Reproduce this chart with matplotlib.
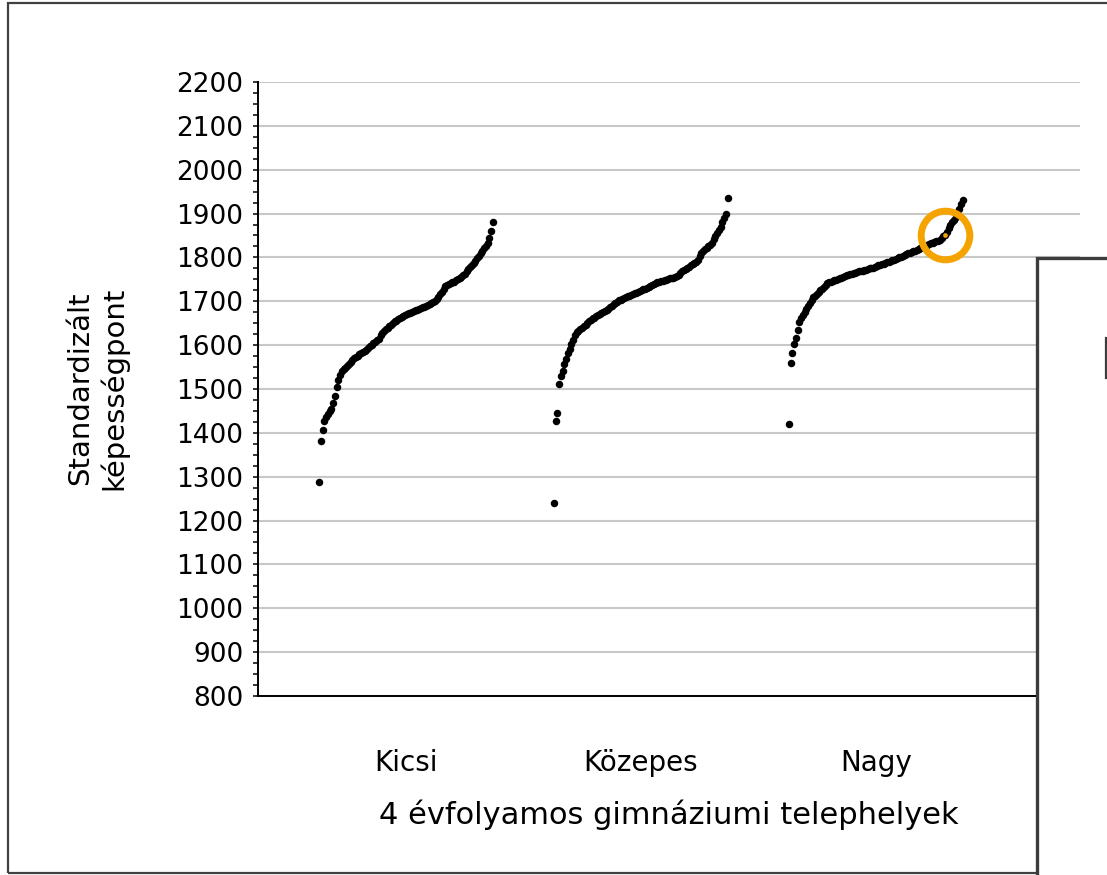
import matplotlib
matplotlib.use("Agg")
import matplotlib.pyplot as plt
from matplotlib.patches import Rectangle
from matplotlib.lines import Line2D
from matplotlib.transforms import blended_transform_factory
from matplotlib.ticker import MultipleLocator
import numpy as np

plt.rcParams['font.family'] = ['DejaVu Sans']

categories = ["Kicsi", "Közepes", "Nagy"]
x_title = "4 évfolyamos gimnáziumi telephelyek"
y_title = "Standardizált\nképességpont"

kicsi = [1287, 1382, 1407, 1428, 1437, 1442, 1449, 1454, 1469, 1484,
         1505, 1520, 1532, 1542, 1546, 1549, 1552, 1557, 1562, 1567,
         1570, 1573, 1576, 1579, 1581, 1584, 1587, 1590, 1593, 1597,
         1600, 1604, 1608, 1612, 1615, 1622, 1628, 1633, 1636, 1639,
         1643, 1647, 1650, 1654, 1656, 1659, 1661, 1664, 1666, 1668,
         1670, 1673, 1674, 1676, 1678, 1680, 1681, 1683, 1685, 1686,
         1688, 1689, 1691, 1693, 1695, 1698, 1700, 1705, 1710, 1716,
         1722, 1729, 1735, 1738, 1740, 1742, 1744, 1745, 1748, 1750,
         1753, 1755, 1759, 1763, 1768, 1773, 1778, 1782, 1787, 1792,
         1798, 1804, 1810, 1815, 1821, 1826, 1834, 1844, 1861, 1881]

kozepes = [1241, 1428, 1446, 1511, 1530, 1542, 1556, 1569, 1581, 1592,
           1602, 1612, 1622, 1629, 1633, 1637, 1640, 1644, 1647, 1651,
           1654, 1657, 1661, 1663, 1666, 1668, 1670, 1673, 1675, 1678,
           1680, 1683, 1686, 1689, 1693, 1696, 1699, 1702, 1704, 1706,
           1707, 1709, 1711, 1713, 1714, 1716, 1718, 1719, 1721, 1723,
           1725, 1727, 1729, 1731, 1733, 1735, 1737, 1739, 1741, 1743,
           1745, 1746, 1747, 1748, 1749, 1751, 1752, 1753, 1754, 1755,
           1757, 1761, 1764, 1768, 1771, 1774, 1777, 1779, 1782, 1784,
           1787, 1789, 1795, 1803, 1811, 1815, 1819, 1822, 1825, 1829,
           1833, 1841, 1849, 1856, 1863, 1870, 1880, 1890, 1900, 1935]

nagy = [1420, 1560, 1581, 1602, 1616, 1634, 1653, 1661, 1669, 1676,
        1683, 1689, 1696, 1703, 1709, 1713, 1717, 1721, 1725, 1729,
        1733, 1737, 1741, 1743, 1744, 1746, 1748, 1749, 1751, 1753,
        1754, 1756, 1758, 1759, 1761, 1762, 1763, 1764, 1765, 1767,
        1768, 1769, 1770, 1771, 1772, 1773, 1775, 1776, 1777, 1779,
        1780, 1782, 1783, 1785, 1786, 1788, 1789, 1790, 1792, 1793,
        1795, 1797, 1798, 1800, 1802, 1803, 1805, 1807, 1809, 1810,
        1812, 1814, 1815, 1817, 1819, 1821, 1823, 1825, 1827, 1829,
        1830, 1832, 1834, 1835, 1837, 1838, 1840, 1844, 1848, 1852,
        1859, 1866, 1873, 1880, 1886, 1893, 1900, 1910, 1921, 1931]

highlight_group = 2
highlight_index = 89

series = [kicsi, kozepes, nagy]

W, H = 1107, 875
fig = plt.figure(figsize=(W / 100, H / 100), dpi=100)
fig.patch.set_facecolor("white")

ax_l, ax_r, ax_t, ax_b = 258, 1080, 82, 696
ax = fig.add_axes([ax_l / W, 1 - ax_b / H, (ax_r - ax_l) / W, (ax_b - ax_t) / H])

offset, span = 0.26, 0.74
for g, vals in enumerate(series):
    n = len(vals)
    xs = g + offset + span * np.arange(n) / (n - 1)
    ax.plot(xs, vals, linestyle="none", marker="o", markersize=5.4,
            color="black", markeredgewidth=0, zorder=3)
    if g == highlight_group:
        hx, hy = xs[highlight_index], vals[highlight_index]
        ax.plot([hx], [hy], linestyle="none", marker="o", markersize=3.4,
                color="#F5A300", markeredgewidth=0, zorder=4)
        ax.plot([hx], [hy], linestyle="none", marker="o", markersize=35,
                markerfacecolor="none", markeredgecolor="#F5A300",
                markeredgewidth=5, zorder=4)

ax.set_xlim(0, 3.5)
ax.set_ylim(800, 2200)
ax.yaxis.set_major_locator(MultipleLocator(100))
ax.yaxis.set_minor_locator(MultipleLocator(25))
ax.grid(axis="y", which="major", color="#c8c8c8", linewidth=1.5, zorder=0)
ax.set_axisbelow(True)
ax.set_xticks([])
for s in ["top", "right"]:
    ax.spines[s].set_visible(False)
for s in ["left", "bottom"]:
    ax.spines[s].set_color("black")
    ax.spines[s].set_linewidth(1.4)
ax.tick_params(axis="y", which="both", direction="out", length=3.6,
               width=1.1, color="black", labelsize=19, pad=7)
ax.tick_params(axis="y", which="minor", length=3.6)

trans = blended_transform_factory(ax.transData, fig.transFigure)
for g, name in enumerate(categories):
    ax.text(g + 0.63, 1 - 771 / H, name, transform=trans, ha="center",
            va="baseline", fontsize=20)

fig.text(669 / W, 1 - 824 / H, x_title, ha="center", va="baseline", fontsize=22)
fig.text(97 / W, 1 - 388 / H, y_title, ha="center", va="center",
         rotation=90, fontsize=21, linespacing=1.22, multialignment="center")

# outer frame
fig.add_artist(Rectangle((8 / W, 1 - 873 / H), 1.2, (873 - 3) / H,
                         transform=fig.transFigure, facecolor="none",
                         edgecolor="#404040", linewidth=1.6, zorder=6,
                         clip_on=False))
# overlapping box on the right
fig.add_artist(Rectangle((1037 / W, -0.1), 0.2, 0.1 + (875 - 258) / H,
                         transform=fig.transFigure, facecolor="white",
                         edgecolor="#3c3c3c", linewidth=2.4, zorder=7,
                         clip_on=False))
fig.add_artist(Line2D([1106 / W, 1106 / W], [1 - 338 / H, 1 - 378 / H],
                      transform=fig.transFigure, color="#3c3c3c",
                      linewidth=1.6, zorder=8))

fig.savefig("out.png", dpi=100, facecolor="white")
